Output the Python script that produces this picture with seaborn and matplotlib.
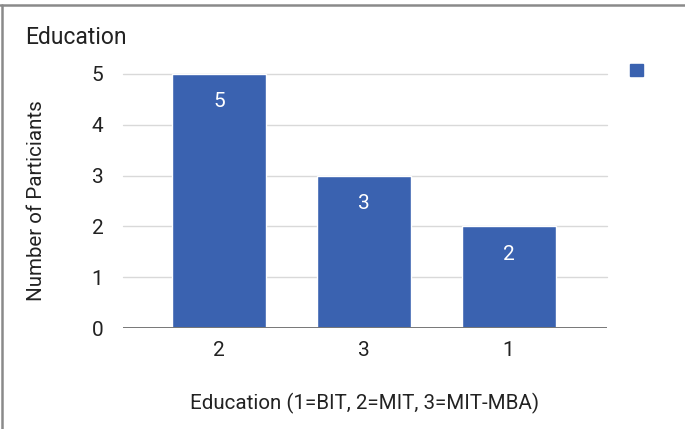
import matplotlib
matplotlib.use("Agg")
import matplotlib.pyplot as plt
from matplotlib.lines import Line2D
from matplotlib.patches import Patch
import seaborn as sns
import pandas as pd

# Counts of participants per education code
education_codes = ["2", "3", "1"]
participants = [5, 3, 2]
y_ticks = [0, 1, 2, 3, 4, 5]

title_text = "Education"
x_label = "Education (1=BIT, 2=MIT, 3=MIT-MBA)"
y_label = "Number of Particiants"

bar_color = "#3a62b0"
text_color = "#222222"

sns.set_theme(style="white")
plt.rcParams["font.family"] = ["Roboto", "DejaVu Sans"]

df = pd.DataFrame({"education": education_codes, "count": participants})

fig = plt.figure(figsize=(6.85, 4.29), dpi=100)
ax = fig.add_axes([123 / 685, 1 - 328 / 429, (607 - 123) / 685, (328 - 74) / 429])

sns.barplot(data=df, x="education", y="count", order=education_codes,
            color=bar_color, saturation=1, width=0.65, ax=ax, zorder=3)

ax.set_xlim(-0.665, 2.68)
ax.set_ylim(0, 5)
ax.set_yticks(y_ticks)
ax.set_yticklabels([str(t) for t in y_ticks])

# Light gridlines with a darker baseline
for t in y_ticks[1:]:
    ax.axhline(t, color="#d9d9d9", lw=1, zorder=1, clip_on=False)
ax.axhline(0, color="#777777", lw=1.4, zorder=4)

for s in ax.spines.values():
    s.set_visible(False)

ax.tick_params(axis="both", length=0, labelsize=15, labelcolor=text_color)
ax.tick_params(axis="y", pad=14)
ax.tick_params(axis="x", pad=9)

ax.set_xlabel(x_label, fontsize=14.8, color=text_color, labelpad=24)
ax.set_ylabel(y_label, fontsize=14.8, color=text_color, labelpad=33)

# Value labels inside the top of each bar
for container in ax.containers:
    ax.bar_label(container, labels=[str(v) for v in participants],
                 padding=-27, color="white", fontsize=15)

fig.text(25 / 685, 1 - 38 / 429, title_text, fontsize=16.5, color=text_color,
         ha="left", va="center")

# Legend with a single swatch and no text
fig.legend(handles=[Patch(facecolor=bar_color, edgecolor=bar_color)], labels=[""],
           loc="center left", bbox_to_anchor=(622 / 685, 1 - 71 / 429),
           frameon=False, handlelength=0.9, handleheight=0.9,
           handletextpad=0, borderpad=0)

# Outer frame lines along the top and left edges
fig.add_artist(Line2D([0, 1], [1 - 5 / 429, 1 - 5 / 429], color="#8a8a8a", lw=1.8,
                      transform=fig.transFigure))
fig.add_artist(Line2D([2 / 685, 2 / 685], [0, 1 - 5 / 429], color="#8a8a8a", lw=1.8,
                      transform=fig.transFigure))

fig.savefig("out.png", dpi=100, facecolor="white")
